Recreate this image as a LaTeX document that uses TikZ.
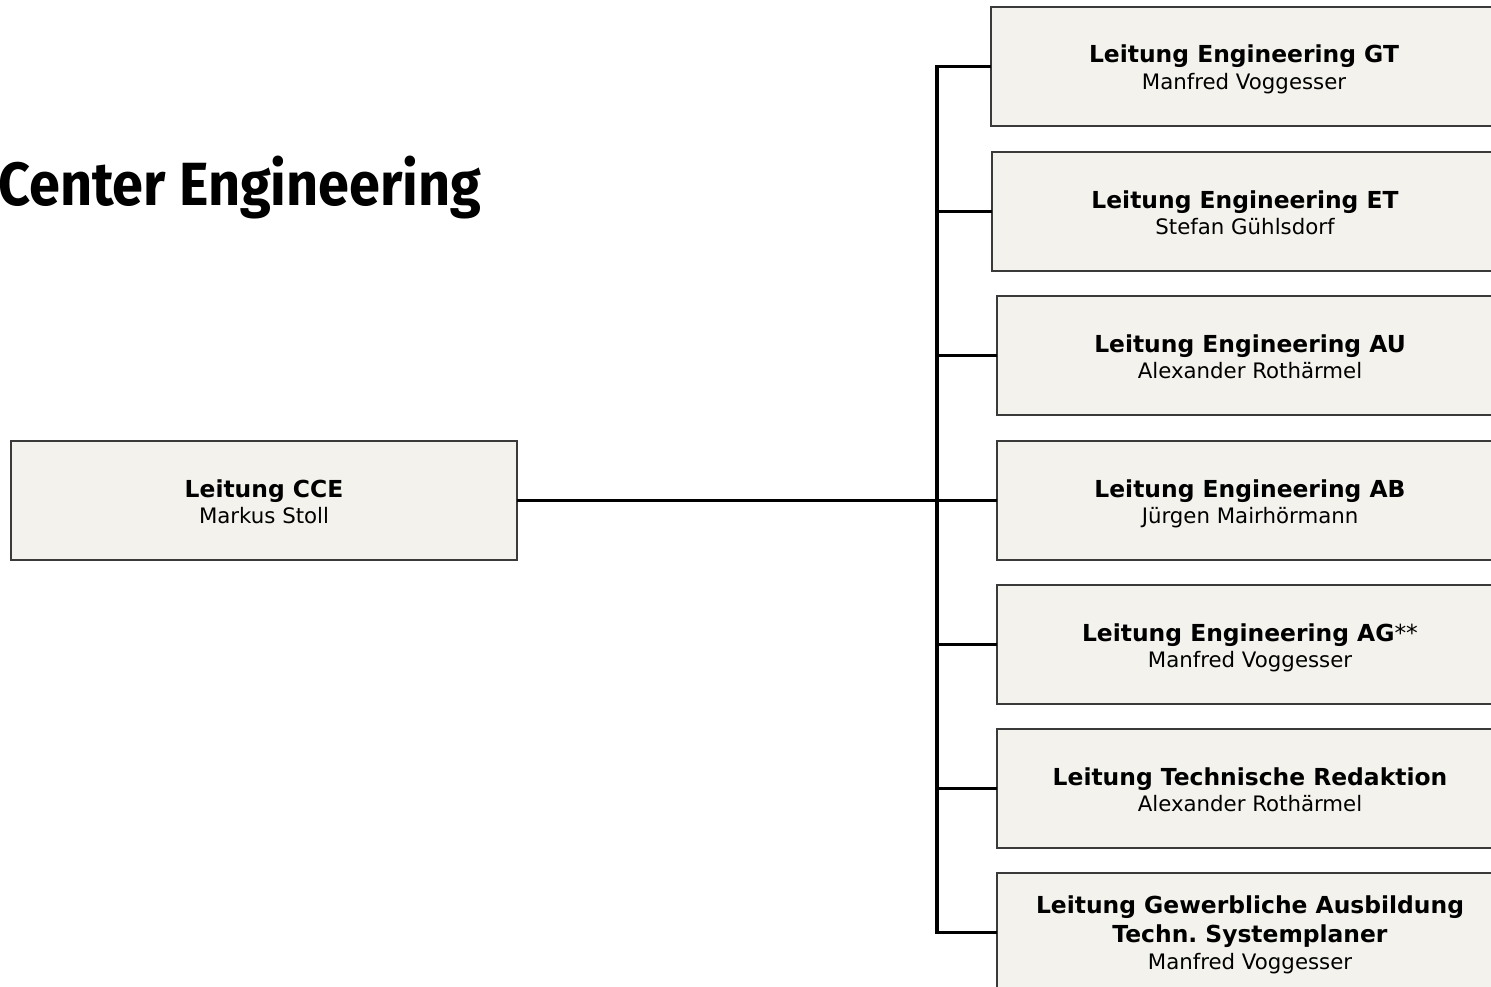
\documentclass[tikz,border=0pt]{standalone}
\usepackage{fontspec}
\setmainfont{DejaVu Sans}
\newfontfamily\titlefont[FakeStretch=0.915]{Fira Sans}
\definecolor{boxfill}{HTML}{F3F2EC}
\definecolor{boxborder}{HTML}{3A3A3A}
\frenchspacing
\tikzset{
  orgbox/.style={draw=boxborder, line width=1.4pt, fill=boxfill, minimum width=506pt,
    minimum height=119pt, inner sep=0pt, outer sep=0pt, anchor=north west},
  headtxt/.style={font=\fontsize{23.4}{26}\selectfont\bfseries, inner sep=0pt, anchor=base},
  nametxt/.style={font=\fontsize{21.3}{24}\selectfont, inner sep=0pt, anchor=base},
  conn/.style={line width=3.2pt, draw=black, line join=miter},
}
\begin{document}
\begin{tikzpicture}[x=1pt,y=-1pt]
\useasboundingbox (0,0) rectangle (1491,987);
\clip (0,0) rectangle (1491,987);
% title
\node[font=\titlefont\fontsize{61}{70}\selectfont\bfseries, inner sep=0pt, anchor=base west] (title) at (-2,206) {Center Engineering};
% boxes
\node[orgbox] (cce) at (11,441) {};
\node[orgbox] (gt) at (991,7) {};
\node[orgbox] (et) at (992,152) {};
\node[orgbox] (au) at (997,296) {};
\node[orgbox] (ab) at (997,441) {};
\node[orgbox] (ag) at (997,585) {};
\node[orgbox] (tr) at (997,729) {};
\node[orgbox] (ga) at (997,873) {};
% texts
\node[headtxt] (cce-h) at ([yshift=-56pt]cce.north) {Leitung CCE};
\node[nametxt] (cce-n) at ([yshift=-82pt]cce.north) {Markus Stoll};
\node[headtxt] (gt-h) at ([yshift=-56pt]gt.north) {Leitung Engineering GT};
\node[nametxt] (gt-n) at ([yshift=-82.5pt]gt.north) {Manfred Voggesser};
\node[headtxt] (et-h) at ([yshift=-56pt]et.north) {Leitung Engineering ET};
\node[nametxt] (et-n) at ([yshift=-82pt]et.north) {Stefan Gühlsdorf};
\node[headtxt] (au-h) at ([yshift=-56pt]au.north) {Leitung Engineering AU};
\node[nametxt] (au-n) at ([yshift=-82pt]au.north) {Alexander Rothärmel};
\node[headtxt] (ab-h) at ([yshift=-56pt]ab.north) {Leitung Engineering AB};
\node[nametxt] (ab-n) at ([yshift=-82pt]ab.north) {Jürgen Mairhörmann};
\node[headtxt] (ag-h) at ([yshift=-56pt]ag.north) {Leitung Engineering AG\mdseries**};
\node[nametxt] (ag-n) at ([yshift=-82pt]ag.north) {Manfred Voggesser};
\node[headtxt] (tr-h) at ([yshift=-56pt]tr.north) {Leitung Technische Redaktion};
\node[nametxt] (tr-n) at ([yshift=-82pt]tr.north) {Alexander Rothärmel};
\node[headtxt] (ga-h) at ([yshift=-40pt]ga.north) {Leitung Gewerbliche Ausbildung};
\node[headtxt] (ga-h2) at ([yshift=-69.5pt]ga.north) {Techn. Systemplaner};
\node[nametxt] (ga-n) at ([yshift=-96pt]ga.north) {Manfred Voggesser};
% connectors
\coordinate (bus) at (937,0);
\draw[conn] (gt.west) -- (gt.west -| bus) -- (ga.west -| bus) -- (ga.west);
\draw[conn] (et.west -| bus) -- (et.west);
\draw[conn] (au.west -| bus) -- (au.west);
\draw[conn] (ab.west -| bus) -- (ab.west);
\draw[conn] (ag.west -| bus) -- (ag.west);
\draw[conn] (tr.west -| bus) -- (tr.west);
\draw[conn] (cce.east) -- (cce.east -| bus);
\end{tikzpicture}
\end{document}
